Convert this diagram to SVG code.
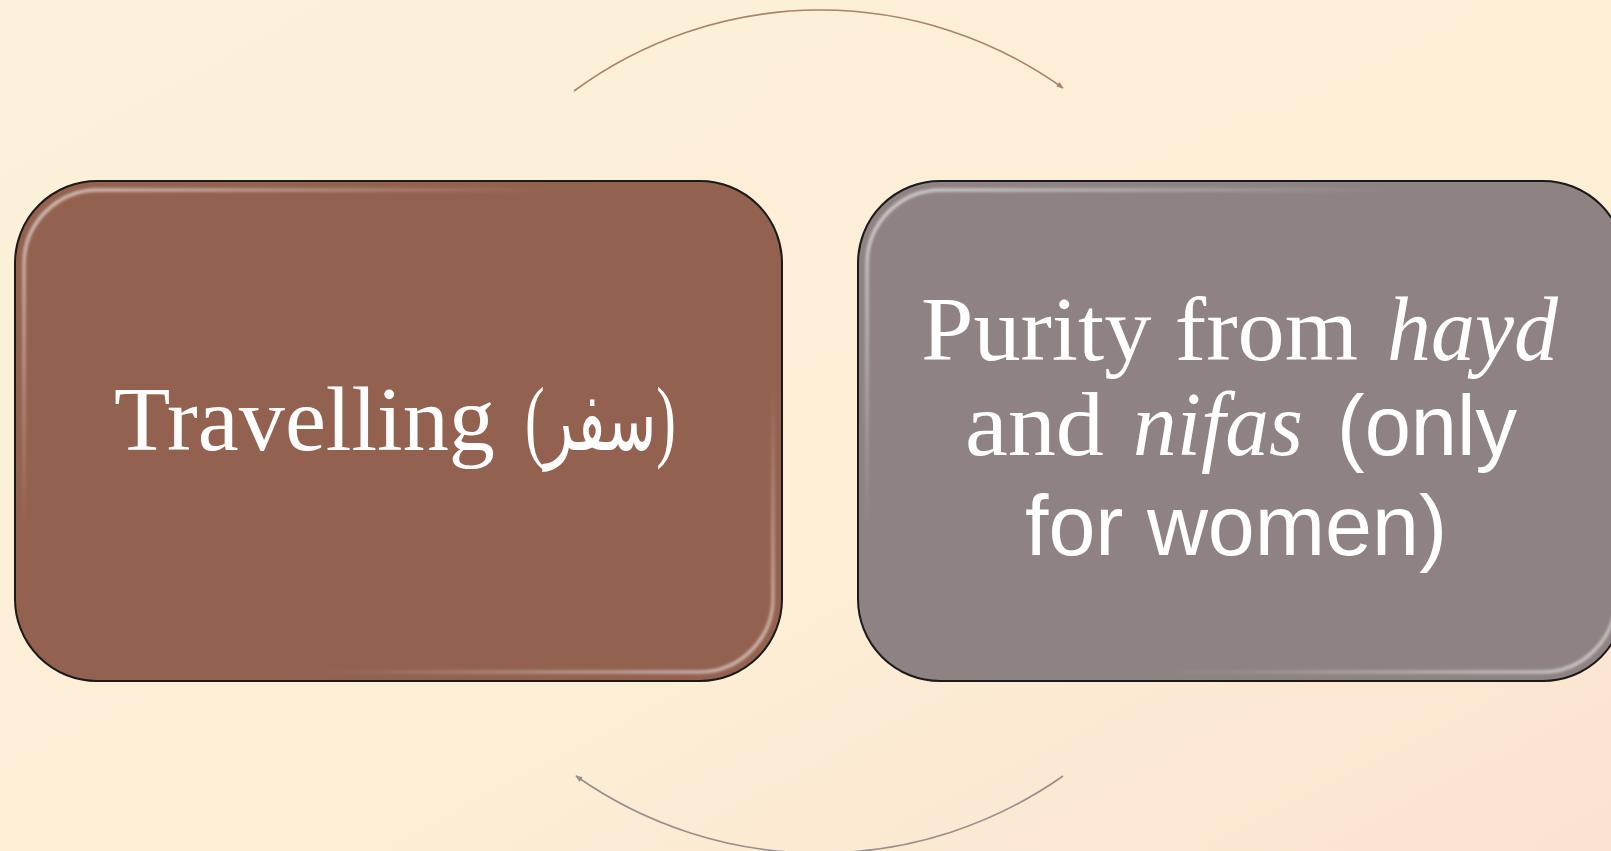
<svg xmlns="http://www.w3.org/2000/svg" width="1611" height="851" viewBox="0 0 1611 851">
<defs>
<linearGradient id="bg" x1="0" y1="0" x2="1" y2="1">
<stop offset="0" stop-color="#fdf1d9"/>
<stop offset="0.6" stop-color="#fdeed6"/>
<stop offset="1" stop-color="#fbe3cf"/>
</linearGradient>
<linearGradient id="rim" x1="0" y1="0" x2="1" y2="1">
<stop offset="0" stop-color="#ffffff" stop-opacity="0.75"/>
<stop offset="0.35" stop-color="#ffffff" stop-opacity="0"/>
<stop offset="0.7" stop-color="#ffffff" stop-opacity="0"/>
<stop offset="1" stop-color="#ffffff" stop-opacity="0.7"/>
</linearGradient>
<filter id="soft" x="-5%" y="-5%" width="110%" height="110%">
<feGaussianBlur stdDeviation="1.6"/>
</filter>
<marker id="ahTop" viewBox="0 0 10 10" refX="9" refY="5" markerWidth="7" markerHeight="7" orient="auto" markerUnits="userSpaceOnUse">
<path d="M0,1 L10,5 L0,9 Z" fill="#a6826f"/>
</marker>
<marker id="ahBot" viewBox="0 0 10 10" refX="9" refY="5" markerWidth="7" markerHeight="7" orient="auto" markerUnits="userSpaceOnUse">
<path d="M0,1 L10,5 L0,9 Z" fill="#9a8e8c"/>
</marker>
</defs>
<style>
.box{stroke:#1a1a1a;stroke-width:2}
.rim{fill:none;stroke:url(#rim);stroke-width:3;filter:url(#soft)}
.serif{font-family:"Liberation Serif","DejaVu Sans",serif;font-size:90px;fill:#ffffff}
.sans{font-family:"Liberation Sans","DejaVu Sans",sans-serif;font-size:86px;fill:#ffffff}
.it{font-style:italic}
.conn{fill:none;stroke-width:1.6}
</style>
<rect x="0" y="0" width="1611" height="851" fill="url(#bg)"/>

<g id="connectors">
<path class="conn" d="M574,91 A416,416 0 0 1 1063,88" stroke="#a6826f" marker-end="url(#ahTop)"/>
<path class="conn" d="M1063,776 A423,423 0 0 1 576,776" stroke="#9a8e8c" marker-end="url(#ahBot)"/>
</g>

<g id="node-travelling">
<rect class="box" x="15" y="181" width="767" height="500" rx="82" ry="82" fill="#93614f"/>
<rect class="rim" x="24" y="190" width="749" height="482" rx="74" ry="74"/>
<text class="serif" x="114" y="450" textLength="381" lengthAdjust="spacingAndGlyphs">Travelling</text>
<text class="serif" x="525" y="450" textLength="151" lengthAdjust="spacingAndGlyphs">(سفر)</text>
</g>

<g id="node-purity">
<rect class="box" x="858" y="181" width="767" height="500" rx="82" ry="82" fill="#8e8282"/>
<rect class="rim" x="867" y="190" width="749" height="482" rx="74" ry="74"/>
<text class="serif" x="921" y="360" textLength="437" lengthAdjust="spacingAndGlyphs">Purity from</text>
<text class="serif it" x="1387" y="360" textLength="171" lengthAdjust="spacingAndGlyphs">hayd</text>
<text class="serif" x="965" y="455" textLength="139" lengthAdjust="spacingAndGlyphs">and</text>
<text class="serif it" x="1133" y="455" textLength="170" lengthAdjust="spacingAndGlyphs">nifas</text>
<text class="sans" x="1337" y="455" textLength="180" lengthAdjust="spacingAndGlyphs">(only</text>
<text class="sans" x="1025" y="555" textLength="422" lengthAdjust="spacingAndGlyphs">for women)</text>
</g>
</svg>
